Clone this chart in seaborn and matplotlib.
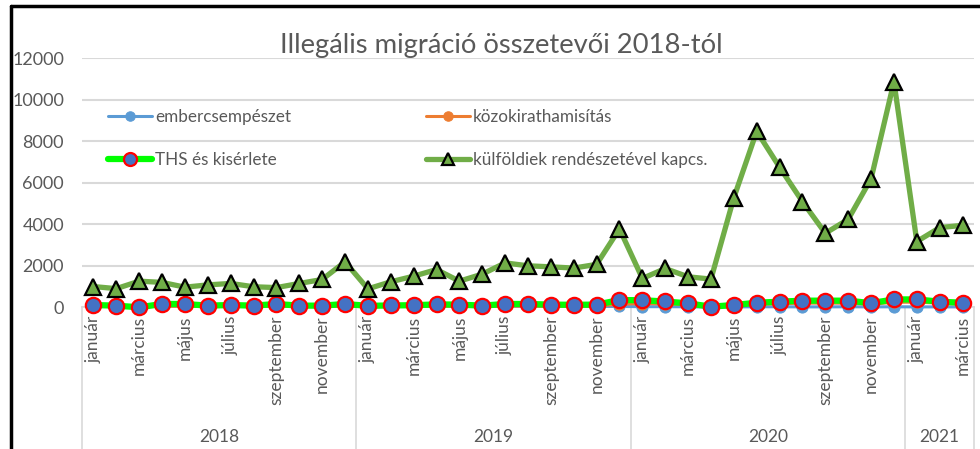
import matplotlib
matplotlib.use('Agg')
import matplotlib.pyplot as plt
import seaborn as sns
import pandas as pd
import numpy as np
from matplotlib.lines import Line2D
from matplotlib.transforms import blended_transform_factory

# ---------------- data ----------------
month_labels = ['január', '', 'március', '', 'május', '', 'július', '', 'szeptember', '', 'november', '']
years = ['2018', '2019', '2020', '2021']
year_counts = [12, 12, 12, 3]

ember = [50, 45, 20, 60, 55, 45, 50, 45, 55, 40, 45, 60,
         45, 45, 50, 55, 50, 40, 55, 50, 45, 50, 45, 40,
         30, 30, 25, 10, 20, 25, 25, 20, 20, 25, 20, 25,
         20, 20, 20]
kozokirat = [40, 40, 30, 50, 50, 40, 50, 40, 50, 40, 40, 60,
             40, 40, 50, 60, 50, 40, 60, 60, 50, 60, 60, 150,
             180, 160, 130, 20, 80, 150, 170, 200, 200, 200, 150, 240,
             250, 200, 150]
ths = [110, 80, 0, 160, 160, 80, 110, 80, 160, 80, 80, 160,
       70, 90, 100, 140, 130, 80, 160, 160, 130, 120, 130, 350,
       340, 280, 190, 30, 110, 220, 270, 320, 320, 320, 200, 380,
       380, 270, 220]
kulfoldiek = [1000, 900, 1260, 1200, 970, 1080, 1150, 990, 950, 1150, 1340, 2190,
              890, 1230, 1500, 1820, 1260, 1600, 2140, 2000, 1950, 1890, 2070, 3780,
              1390, 1870, 1470, 1360, 5280, 8480, 6750, 5090, 3570, 4240, 6190, 10870,
              3170, 3840, 3950]

series_names = ['embercsempészet', 'közokirathamisítás', 'THS és kisérlete',
                'külföldiek rendészetével kapcs.']
title = 'Illegális migráció összetevői 2018-tól'

# ---------------- figure ----------------
sns.set_theme(style='white')
plt.rcParams['font.family'] = ['Lato', 'DejaVu Sans']

n = len(kulfoldiek)
idx = np.arange(n)
df = pd.DataFrame({'idx': idx, 'ember': ember, 'kozokirat': kozokirat,
                   'ths': ths, 'kulfoldiek': kulfoldiek})

fig = plt.figure(figsize=(9.8, 4.49), dpi=100)
ax = fig.add_axes([82 / 980, (449 - 307.3) / 449, 892 / 980, 249 / 449])

sns.lineplot(data=df, x='idx', y='ember', ax=ax, color='#5B9BD5', lw=2.2,
             marker='o', markersize=8, markerfacecolor='#5B9BD5',
             markeredgecolor='#5B9BD5', clip_on=False, label=series_names[0], zorder=3)
sns.lineplot(data=df, x='idx', y='kozokirat', ax=ax, color='#ED7D31', lw=2.2,
             marker='o', markersize=8, markerfacecolor='#ED7D31',
             markeredgecolor='#ED7D31', clip_on=False, label=series_names[1], zorder=4)
sns.lineplot(data=df, x='idx', y='ths', ax=ax, color='#00FF00', lw=4.5,
             marker='o', markersize=11, markerfacecolor='#4472C4',
             markeredgecolor='#FF0000', markeredgewidth=1.6, clip_on=False,
             label=series_names[2], zorder=5)
sns.lineplot(data=df, x='idx', y='kulfoldiek', ax=ax, color='#70AD47', lw=3.8,
             marker='^', markersize=11, markerfacecolor='#70AD47',
             markeredgecolor='black', markeredgewidth=1.6, clip_on=False,
             label=series_names[3], zorder=6)

ax.set_xlim(-0.5, n - 0.5)
ax.set_ylim(0, 12000)
ax.set_yticks(range(0, 12001, 2000))
ax.yaxis.grid(True, color='#D9D9D9', lw=1.5)
ax.set_axisbelow(True)
for s in ['top', 'right', 'left']:
    ax.spines[s].set_visible(False)
ax.spines['bottom'].set_color('#D9D9D9')
ax.spines['bottom'].set_linewidth(1.2)
ax.set_xlabel('')
ax.set_ylabel('')

# x tick labels (every other month)
tick_pos = idx[::2]
full_labels = []
for cnt in year_counts:
    full_labels += month_labels[:cnt]
ax.set_xticks(tick_pos)
ax.set_xticklabels([full_labels[i] for i in tick_pos], rotation=90, va='top', ha='center')
ax.tick_params(axis='x', length=0, pad=6, labelsize=12.5, labelcolor='#595959')
ax.tick_params(axis='y', length=0, pad=13, labelsize=13, labelcolor='#595959')

# year groups
trans = blended_transform_factory(ax.transData, ax.transAxes)
bounds = np.concatenate([[0], np.cumsum(year_counts)]) - 0.5
for b in bounds:
    ax.plot([b, b], [0, -0.65], transform=trans, clip_on=False, color='#D9D9D9', lw=1.2)
for y, a, b in zip(years, bounds[:-1], bounds[1:]):
    ax.text((a + b) / 2, (307.3 - 437) / 249, y, transform=trans, ha='center', va='center',
            fontsize=12.5, color='#595959')

# legend
handles, labels = ax.get_legend_handles_labels()
order = [0, 2, 1, 3]
leg = ax.legend([handles[i] for i in order], [labels[i] for i in order], ncol=2,
                loc='upper left', bbox_to_anchor=(0.012, 0.86), frameon=False,
                fontsize=12.3, labelcolor='#595959', handlelength=2.6, markerscale=0.85,
                handletextpad=0.15, columnspacing=7.9, labelspacing=1.6)

fig.text(501 / 980, 1 - 45 / 449, title, ha='center', va='center', fontsize=19.7, color='#595959')

# outer frame (left and top)
fig.add_artist(Line2D([11 / 980, 11 / 980], [0, 1 - 6 / 449], color='black', lw=2.5,
                      transform=fig.transFigure))
fig.add_artist(Line2D([11 / 980, 1], [1 - 6 / 449, 1 - 6 / 449], color='black', lw=2.5,
                      transform=fig.transFigure))

fig.savefig('out.png', dpi=100)
